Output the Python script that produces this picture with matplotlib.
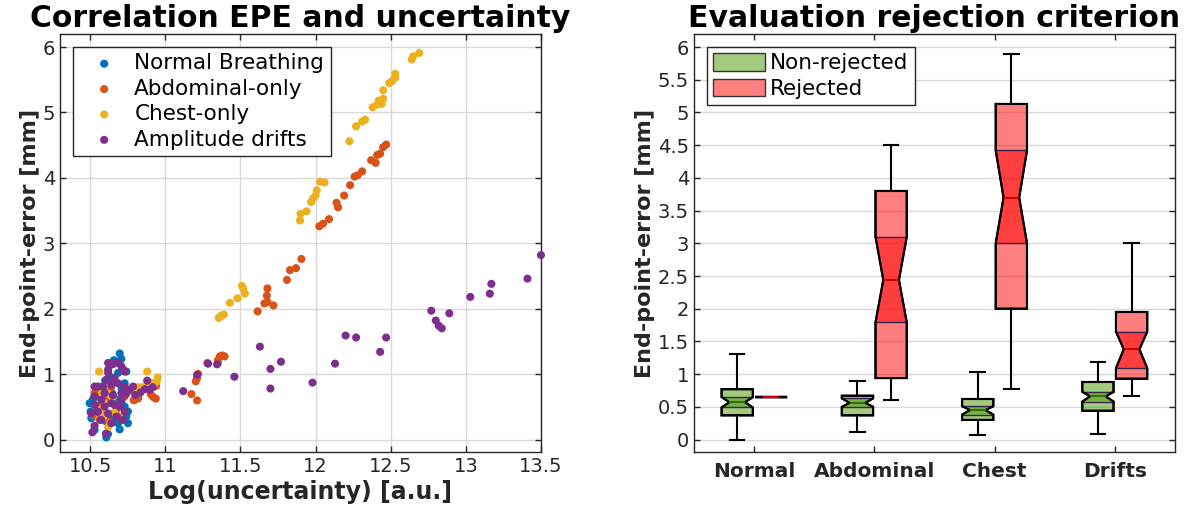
import numpy as np
import matplotlib.pyplot as plt
from matplotlib.patches import Patch, PathPatch
from matplotlib.ticker import FormatStrFormatter

# ---- scatter: log(uncertainty) vs end-point-error ----
normal_x = [10.697, 10.708, 10.659, 10.741, 10.73, 10.497, 10.503, 10.508, 10.53, 10.608,
            10.619, 10.697, 10.752, 10.741, 10.752, 10.73, 10.708, 10.686, 10.63, 10.646,
            10.552, 10.574, 10.663, 10.608, 10.686, 10.60, 10.64, 10.58, 10.67, 10.55,
            10.62, 10.71, 10.52, 10.66, 10.60]
normal_y = [1.315, 1.233, 1.213, 1.04, 0.86, 0.556, 0.428, 0.326, 0.146, 0.033,
            0.085, 0.156, 0.249, 0.351, 0.428, 0.505, 0.582, 1.018, 1.146, 0.71,
            0.71, 0.505, 0.403, 0.274, 0.249, 0.90, 0.95, 0.60, 0.62, 0.45,
            0.35, 0.78, 0.62, 0.30, 0.72]

abdo_x = [10.541, 10.552, 10.519, 10.563, 10.674, 10.686, 10.797, 10.819, 10.73, 10.55,
          10.53, 10.57, 10.60, 10.64, 10.58, 10.62,
          10.904, 10.937, 10.94, 10.82, 10.79, 10.92,
          11.174, 11.212, 11.203, 11.212, 11.219, 11.28, 11.35, 11.363, 11.38, 11.395, 11.35,
          11.615, 11.676, 11.68, 11.66, 11.68, 11.72, 11.81, 11.83, 11.87, 11.906,
          12.025, 12.05, 12.09, 12.14, 12.15, 12.19, 12.23, 12.26, 12.28, 12.31,
          12.37, 12.40, 12.41, 12.43, 12.45, 12.47]
abdo_y = [0.71, 0.762, 0.377, 0.30, 0.454, 0.351, 0.608, 0.659, 0.659, 0.51,
          0.71, 0.39, 0.60, 0.80, 0.65, 0.28,
          0.69, 0.626, 0.82, 0.63, 0.60, 0.65,
          0.695, 0.598, 0.89, 0.94, 1.003, 1.17, 1.17, 1.27, 1.285, 1.27, 1.21,
          1.96, 2.20, 2.31, 2.08, 2.10, 2.05, 2.44, 2.59, 2.62, 2.76,
          3.26, 3.30, 3.37, 3.62, 3.55, 3.73, 3.89, 4.02, 4.04, 4.10,
          4.27, 4.23, 4.35, 4.37, 4.47, 4.51]

chest_x = [10.56, 10.58, 10.62, 10.635, 10.57, 10.62, 10.60, 10.65, 10.59, 10.66,
           10.88, 10.95, 10.945, 10.93, 10.815, 10.776, 10.87, 10.84, 10.90,
           11.356, 11.37, 11.39, 11.43, 11.48, 11.51, 11.52, 11.53,
           11.897, 11.90, 11.94, 11.97, 11.985, 12.0, 12.008, 12.03, 12.06,
           12.225, 12.27, 12.31, 12.33, 12.38, 12.41, 12.42, 12.44, 12.45, 12.45,
           12.49, 12.51, 12.53, 12.53, 12.64, 12.65, 12.69]
chest_y = [1.04, 0.71, 0.19, 0.25, 0.46, 0.70, 0.55, 0.65, 0.35, 0.42,
           1.04, 0.95, 0.90, 0.855, 0.80, 0.74, 0.82, 0.80, 0.87,
           1.86, 1.89, 1.91, 2.09, 2.16, 2.35, 2.30, 2.23,
           3.35, 3.45, 3.49, 3.63, 3.69, 3.73, 3.81, 3.94, 3.93,
           4.56, 4.79, 4.86, 4.89, 5.08, 5.12, 5.18, 5.13, 5.21, 5.34,
           5.45, 5.48, 5.59, 5.53, 5.81, 5.86, 5.91]

drift_x = [10.62, 10.65, 10.708, 10.73, 10.62, 10.663, 10.608, 10.552, 10.53, 10.586,
           10.641, 10.686, 10.73, 10.763, 10.786, 10.53, 10.574, 10.641, 10.53, 10.597,
           10.663, 10.708, 10.508, 10.552, 10.619, 10.674, 10.719, 10.574, 10.641, 10.53,
           10.515, 10.605, 10.73, 10.697, 10.597, 10.652, 10.708, 10.62, 10.686, 10.66,
           10.72,
           10.74, 10.80, 10.835, 10.865, 10.88, 10.917, 10.896,
           11.12, 11.212, 11.285, 11.345, 11.46, 11.63, 11.70, 11.70, 11.77, 11.98,
           12.13, 12.20, 12.27, 12.43, 12.47, 12.77, 12.80, 12.82, 12.84, 12.89,
           13.03, 13.16, 13.17, 13.41, 13.50]
drift_y = [1.17, 1.15, 1.12, 1.04, 1.02, 0.94, 0.915, 0.81, 0.81, 0.81,
           0.84, 0.86, 0.81, 0.76, 0.81, 0.66, 0.608, 0.556, 0.53, 0.505,
           0.53, 0.608, 0.40, 0.428, 0.40, 0.35, 0.30, 0.30, 0.25, 0.21,
           0.11, 0.09, 0.43, 0.505, 0.71, 0.68, 0.71, 1.07, 1.17, 1.17,
           1.07,
           0.70, 0.68, 0.72, 0.77, 0.90, 0.80, 0.76,
           0.74, 0.99, 1.16, 1.15, 0.96, 1.42, 1.08, 0.78, 1.19, 0.87,
           1.16, 1.59, 1.56, 1.34, 1.56, 1.97, 1.82, 1.74, 1.70, 1.93,
           2.18, 2.23, 2.38, 2.46, 2.82]

# ---- box statistics per breathing pattern ----
groups = ['Normal', 'Abdominal', 'Chest', 'Drifts']
# non-rejected
keep_lo = [0.00, 0.11, 0.07, 0.09]
keep_q1 = [0.37, 0.37, 0.30, 0.44]
keep_cilo = [0.49, 0.50, 0.38, 0.58]
keep_med = [0.57, 0.56, 0.45, 0.66]
keep_cihi = [0.65, 0.63, 0.51, 0.73]
keep_q3 = [0.77, 0.67, 0.62, 0.88]
keep_hi = [1.31, 0.89, 1.03, 1.18]
# rejected
rej_lo = [0.65, 0.60, 0.78, 0.67]
rej_q1 = [0.65, 0.94, 2.00, 0.93]
rej_cilo = [0.65, 1.79, 3.00, 1.09]
rej_med = [0.65, 2.44, 3.70, 1.38]
rej_cihi = [0.65, 3.10, 4.42, 1.65]
rej_q3 = [0.65, 3.80, 5.13, 1.95]
rej_hi = [0.65, 4.50, 5.90, 3.00]

blue = '#0072BD'
orange = '#D95319'
yellow = '#EDB120'
purple = '#7E2F8E'
green_a = (0.28, 0.60, 0.0, 0.5)
red_a = (1.0, 0.0, 0.0, 0.5)
ink = '#262626'

plt.rcParams['font.family'] = 'DejaVu Sans'

fig = plt.figure(figsize=(11.84, 5.11), dpi=100)
ax1 = fig.add_axes([0.0507, 0.1155, 0.4062, 0.818])
ax2 = fig.add_axes([0.5861, 0.1155, 0.4062, 0.818])


def style(ax):
    for s in ax.spines.values():
        s.set_color(ink)
        s.set_linewidth(1.0)
    ax.tick_params(direction='in', top=True, right=True, length=4, width=1,
                   colors=ink, labelsize=14)
    ax.set_axisbelow(True)


# ---- left: correlation scatter ----
style(ax1)
for xs, ys, c, lab in [(normal_x, normal_y, blue, 'Normal Breathing'),
                       (abdo_x, abdo_y, orange, 'Abdominal-only'),
                       (chest_x, chest_y, yellow, 'Chest-only'),
                       (drift_x, drift_y, purple, 'Amplitude drifts')]:
    ax1.scatter(xs, ys, s=34, color=c, edgecolors='none', label=lab,
                clip_on=False, zorder=3)
ax1.set_xlim(10.3, 13.5)
ax1.set_ylim(-0.19, 6.2)
ax1.set_xticks(np.arange(10.5, 13.51, 0.5))
ax1.set_yticks(np.arange(0, 7, 1))
ax1.xaxis.set_major_formatter(FormatStrFormatter('%g'))
ax1.grid(True, color='#d9d9d9', lw=1)
ax1.set_xlabel('Log(uncertainty) [a.u.]', fontsize=17, fontweight='bold',
               color=ink, labelpad=3)
ax1.set_ylabel('End-point-error [mm]', fontsize=16, fontweight='bold',
               color=ink, labelpad=2)
ax1.set_title('Correlation EPE and uncertainty', fontsize=21.5, fontweight='bold', pad=5)
leg1 = ax1.legend(loc='upper left', fontsize=15.5, frameon=True, fancybox=False,
                  edgecolor=ink, framealpha=1, borderaxespad=0.6,
                  handletextpad=0.25, handlelength=2.3, labelspacing=0.25,
                  borderpad=0.3)
leg1.get_frame().set_linewidth(1.0)

# ---- right: notched boxplots ----
style(ax2)
pos = np.arange(1, len(groups) + 1)
width = 0.26


def draw_boxes(ax, offset, lo, q1, cilo, med, cihi, q3, hi, face, medc):
    stats = [dict(whislo=a, q1=b, cilo=c, med=d, cihi=e, q3=f, whishi=g)
             for a, b, c, d, e, f, g in zip(lo, q1, cilo, med, cihi, q3, hi)]
    bp = ax.bxp(stats, positions=pos + offset, widths=width, shownotches=True,
                patch_artist=True, showfliers=False, manage_ticks=False,
                capwidths=0.12,
                boxprops=dict(facecolor=face, edgecolor='k', linewidth=1.5, zorder=2),
                whiskerprops=dict(color='k', lw=1.5),
                capprops=dict(color='k', lw=1.5),
                medianprops=dict(color=medc, lw=1.5, zorder=3))
    hw = width / 2
    for p, c_lo, m, c_hi, box in zip(pos + offset, cilo, med, cihi, bp['boxes']):
        # darker notch region (two stacked translucent layers)
        ax.fill([p - hw, p + hw, p + hw / 2, p + hw, p - hw, p - hw / 2],
                [c_lo, c_lo, m, c_hi, c_hi, m], color=face, lw=0, zorder=2.1)
        ax.hlines([c_lo, c_hi], p - hw, p + hw, color='#3b1f4f', lw=1, zorder=2.15)
        ax.add_patch(PathPatch(box.get_path(), fc='none', ec='k', lw=1.5, zorder=2.2))
    return bp


draw_boxes(ax2, -0.14, keep_lo, keep_q1, keep_cilo, keep_med, keep_cihi, keep_q3,
           keep_hi, green_a, '#2f6e12')
draw_boxes(ax2, 0.14, rej_lo, rej_q1, rej_cilo, rej_med, rej_cihi, rej_q3,
           rej_hi, red_a, '#d00000')

ax2.set_xlim(0.5, 4.5)
ax2.set_ylim(-0.19, 6.2)
ax2.set_xticks(pos)
ax2.set_xticklabels(groups, fontweight='bold', fontsize=14.5)
ax2.tick_params(axis='x', pad=7)
ax2.set_yticks(np.arange(0, 6.01, 0.5))
ax2.yaxis.set_major_formatter(FormatStrFormatter('%g'))
ax2.yaxis.grid(True, color='#d9d9d9', lw=1)
ax2.set_ylabel('End-point-error [mm]', fontsize=16, fontweight='bold',
               color=ink, labelpad=2)
ax2.set_title('Evaluation rejection criterion', fontsize=21.5, fontweight='bold', pad=5)
handles = [Patch(facecolor=green_a, edgecolor='#333333', label='Non-rejected'),
           Patch(facecolor=red_a, edgecolor='#333333', label='Rejected')]
leg2 = ax2.legend(handles=handles, loc='upper left', fontsize=15.5, frameon=True,
                  fancybox=False, edgecolor=ink, framealpha=1, borderaxespad=0.6,
                  handlelength=2.4, handleheight=0.85, handletextpad=0.25,
                  labelspacing=0.25, borderpad=0.3)
leg2.get_frame().set_linewidth(1.0)

fig.savefig('out.png', dpi=100)
